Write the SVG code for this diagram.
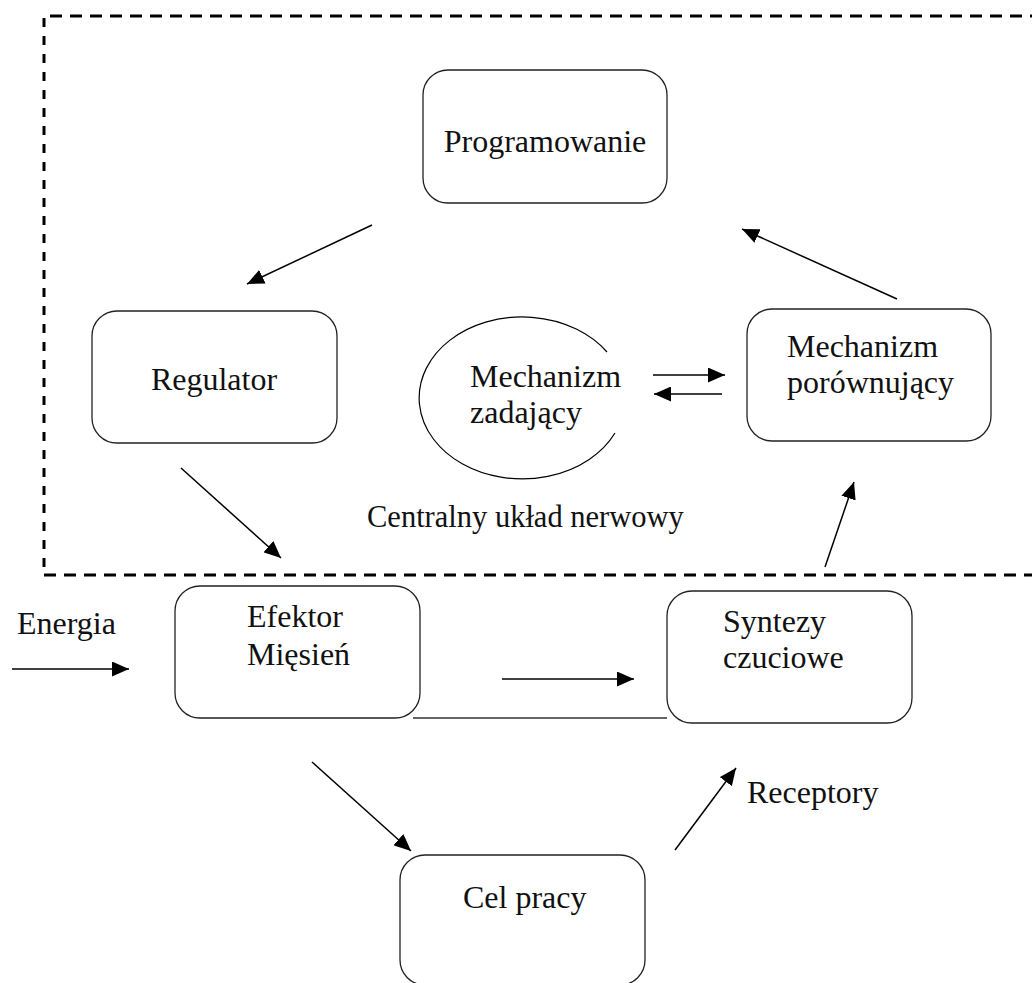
<svg xmlns="http://www.w3.org/2000/svg" width="1032" height="983" viewBox="0 0 1032 983">
  <defs>
    <marker id="arrow" markerUnits="userSpaceOnUse" markerWidth="17" markerHeight="15" refX="17" refY="7.5" orient="auto">
      <path d="M0,0 L17,7.5 L0,15 z" fill="#000"/>
    </marker>
    <style>
      .box { fill: #fff; stroke: #222; stroke-width: 1.3; }
      .lbl { font-family: "Liberation Serif", "Times New Roman", serif; font-size: 32px; fill: #111; }
      .mid { text-anchor: middle; }
      .dash { fill: none; stroke: #000; stroke-width: 3; stroke-dasharray: 12 8; }
      .conn { fill: none; stroke: #000; stroke-width: 1.5; }
      .arr { marker-end: url(#arrow); }
    </style>
  </defs>
  <rect width="1032" height="983" fill="#fff"/>

  <!-- central nervous system boundary -->
  <g id="cns-boundary">
    <path class="dash" d="M50,16 H1032"/>
    <path class="dash" d="M44,18 V575" style="stroke-dasharray: 9 9;"/>
    <path class="dash" d="M44,575 H1032"/>
    <text class="lbl" x="367" y="527" style="font-size:30.5px">Centralny układ nerwowy</text>
  </g>

  <g id="programowanie">
    <rect class="box" x="423" y="70" width="244" height="133" rx="25"/>
    <text class="lbl mid" x="545" y="152">Programowanie</text>
  </g>

  <g id="regulator">
    <rect class="box" x="92" y="311" width="245" height="132" rx="25"/>
    <text class="lbl mid" x="214" y="390">Regulator</text>
  </g>

  <g id="mechanizm-zadajacy">
    <path class="conn" style="stroke-width:1.2" d="M607,352 A103,81 0 1 0 615,433"/>
    <text class="lbl" x="470" y="387">Mechanizm</text>
    <text class="lbl" x="470" y="423">zadający</text>
  </g>

  <g id="mechanizm-porownujacy">
    <rect class="box" x="747" y="309" width="244" height="132" rx="25"/>
    <text class="lbl" x="787" y="357">Mechanizm</text>
    <text class="lbl" x="787" y="393">porównujący</text>
  </g>

  <g id="efektor">
    <rect class="box" x="175" y="586" width="245" height="132" rx="25"/>
    <text class="lbl" x="247" y="627">Efektor</text>
    <text class="lbl" x="247" y="665">Mięsień</text>
  </g>

  <g id="syntezy">
    <rect class="box" x="667" y="591" width="245" height="132" rx="25"/>
    <text class="lbl" x="723" y="632">Syntezy</text>
    <text class="lbl" x="723" y="668">czuciowe</text>
  </g>

  <g id="cel-pracy">
    <rect class="box" x="400" y="855" width="245" height="130" rx="25"/>
    <text class="lbl" x="463" y="908">Cel pracy</text>
  </g>

  <g id="energia">
    <text class="lbl" x="17" y="634">Energia</text>
  </g>

  <g id="receptory">
    <text class="lbl" x="747" y="803">Receptory</text>
  </g>

  <!-- connectors -->
  <g id="connectors">
    <line class="conn arr" x1="372" y1="225" x2="247" y2="284"/>
    <line class="conn arr" x1="181" y1="468" x2="281" y2="558"/>
    <line class="conn arr" x1="897" y1="299" x2="742" y2="229"/>
    <line class="conn arr" x1="653" y1="375" x2="725" y2="375"/>
    <line class="conn arr" x1="722" y1="394" x2="654" y2="394"/>
    <line class="conn arr" x1="825" y1="567" x2="854" y2="482"/>
    <line class="conn arr" x1="12" y1="669" x2="129" y2="669"/>
    <line class="conn arr" x1="502" y1="679" x2="634" y2="679"/>
    <line class="conn" x1="413" y1="718" x2="667" y2="718" style="stroke:#333"/>
    <line class="conn arr" x1="312" y1="762" x2="411" y2="851"/>
    <line class="conn arr" x1="675" y1="850" x2="736" y2="768"/>
  </g>
</svg>
